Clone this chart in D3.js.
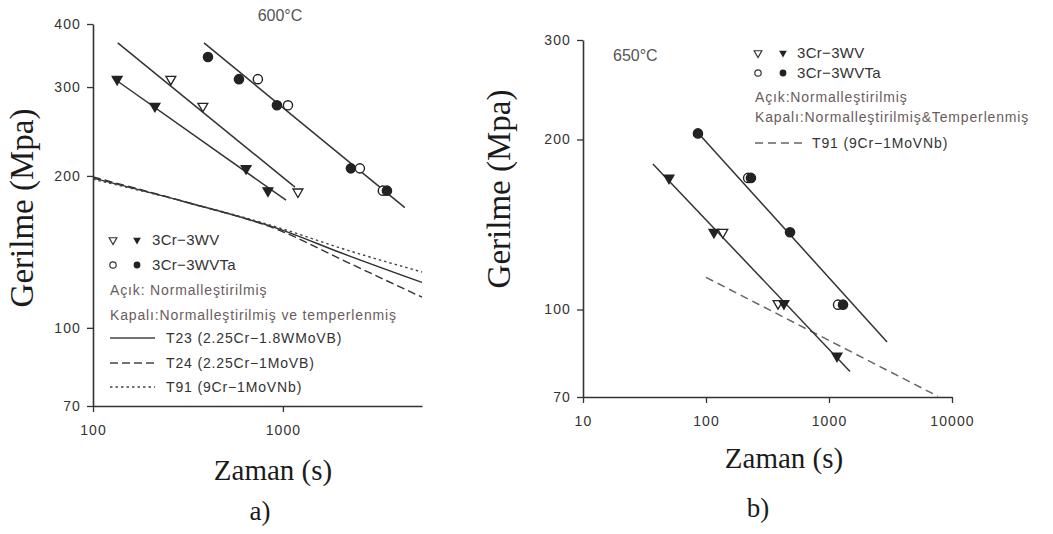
<!DOCTYPE html>
<html><head><meta charset="utf-8">
<script src="https://cdn.jsdelivr.net/npm/d3@7"></script>
<style>
html,body{margin:0;padding:0;background:#fff;}
svg{display:block;}
.tick text{font-family:"Liberation Sans",Arial,sans-serif;font-size:14px;fill:#333;letter-spacing:1.1px;}
</style></head>
<body>
<svg id="chart" width="1053" height="534"></svg>
<script>
// ---------- Panel a) 600°C ----------
const aTitle = "600°C";
const aXTicks = [100, 1000];
const aYTicks = [70, 100, 200, 300, 400];
// 3Cr-3WV open (normalized) / filled (normalized & tempered)
const aWVOpen   = [[257, 311], [379, 275], [1200, 186]];
const aWVFilled = [[134, 311], [212, 275], [640, 207], [834, 187]];
// 3Cr-3WVTa
const aTaOpen   = [[738, 311], [1063, 276], [2543, 207], [3360, 187]];
const aTaFilled = [[403, 344], [587, 311], [930, 276], [2280, 207], [3530, 187]];
// fitted lines (time, stress) endpoints
const aFitWVOpen   = [[135, 367], [1157, 190]];
const aFitWVFilled = [[127, 313], [1038, 179]];
const aFitTa       = [[384, 367], [4387, 173]];
// reference steels
const aT23 = [[100, 198], [300, 178], [1000, 156], [2000, 141], [5400, 123]];
const aT24 = [[100, 199], [300, 178], [1000, 155], [2000, 137], [5400, 115]];
const aT91 = [[100, 197], [300, 178], [1000, 157], [2000, 144], [5400, 129]];
const aRefLabels = ["T23  (2.25Cr\u22121.8WMoVB)", "T24  (2.25Cr\u22121MoVB)", "T91  (9Cr\u22121MoVNb)"];

// ---------- Panel b) 650°C ----------
const bTitle = "650°C";
const bXTicks = [10, 100, 1000, 10000];
const bYTicks = [70, 100, 200, 300];
const bWVOpen   = [[137, 137], [385, 102.5]];
const bWVFilled = [[50, 171], [116, 137], [430, 102.5], [1161, 82.7]];
const bTaOpen   = [[220, 171], [1185, 102]];
const bTaFilled = [[86, 205], [232, 171], [482, 137], [1300, 102]];
const bFitWV = [[37, 181], [1482, 77.7]];
const bFitTa = [[87, 205], [2965, 87.6]];
const bT91   = [[100, 114], [7690, 70.2]];
const bRefLabels = ["T91  (9Cr\u22121MoVNb)"];

const legendNames = ["3Cr\u22123WV", "3Cr\u22123WVTa"];
const yLabel = "Gerilme (Mpa)";
const xLabel = "Zaman (s)";

const svg = d3.select("#chart");
const ink = "#333";

function drawAxes(g, x, y, xt, yt) {
  const xa = g.append("g").attr("transform", `translate(0,${y.range()[0]})`)
    .call(d3.axisBottom(x).tickValues(xt).tickFormat(d3.format("d")).tickSize(6).tickSizeOuter(0).tickPadding(13));
  const ya = g.append("g").attr("transform", `translate(${x.range()[0]},0)`)
    .call(d3.axisLeft(y).tickValues(yt).tickFormat(d3.format("d")).tickSize(6).tickSizeOuter(0).tickPadding(6));
  [xa, ya].forEach(a => {
    a.select(".domain").attr("stroke", ink).attr("stroke-width", 1.6);
    a.selectAll(".tick line").attr("stroke", ink).attr("stroke-width", 1.3);
  });
}
const tri = (s) => d3.symbol(d3.symbolTriangle, s)();
function triangles(g, x, y, data, filled, s) {
  g.selectAll(null).data(data).join("path")
    .attr("d", tri(s || 42))
    .attr("transform", d => `translate(${x(d[0])},${y(d[1])}) rotate(180)`)
    .attr("fill", filled ? "#222" : "#fff").attr("stroke", "#222").attr("stroke-width", 1.3);
}
function circles(g, x, y, data, filled, r) {
  g.selectAll(null).data(data).join("circle")
    .attr("cx", d => x(d[0])).attr("cy", d => y(d[1])).attr("r", r || 4.6)
    .attr("fill", filled ? "#222" : "#fff").attr("stroke", "#222").attr("stroke-width", 1.4);
}
function line(g, x, y, data, dash, color, w) {
  g.append("path").datum(data)
    .attr("d", d3.line().x(d => x(d[0])).y(d => y(d[1])).curve(d3.curveMonotoneX))
    .attr("fill", "none").attr("stroke", color || ink).attr("stroke-width", w || 1.5)
    .attr("stroke-dasharray", dash || null);
}
function text(g, x, y, s, size, color, opts) {
  opts = opts || {};
  return g.append("text").attr("x", x).attr("y", y).text(s)
    .attr("font-family", opts.family || "'Liberation Sans',Arial,sans-serif")
    .attr("font-size", size).attr("fill", color)
    .attr("letter-spacing", opts.ls || null)
    .attr("text-anchor", opts.anchor || "start");
}
const serif = {family: "'Liberation Serif','Times New Roman',serif", anchor: "middle"};
const leg = {ls: "0.85px"};

// ===== Panel a =====
{
  const g = svg.append("g");
  const x = d3.scaleLog().domain([100, 5400]).range([93, 422]);
  const y = d3.scaleLog().domain([70, 400]).range([406, 24]);
  drawAxes(g, x, y, aXTicks, aYTicks);
  line(g, x, y, aT23, null, "#333", 1.4);
  line(g, x, y, aT24, "8,4", "#333", 1.4);
  line(g, x, y, aT91, "2.5,3", "#444", 1.4);
  line(g, x, y, aFitWVOpen); line(g, x, y, aFitWVFilled); line(g, x, y, aFitTa);
  triangles(g, x, y, aWVOpen, false); triangles(g, x, y, aWVFilled, true);
  circles(g, x, y, aTaOpen, false); circles(g, x, y, aTaFilled, true);
  text(g, 280, 21, aTitle, 16, "#555", {anchor: "middle"});
  // legend
  const L = g.append("g");
  L.append("path").attr("d", tri(26)).attr("transform", "translate(113,240) rotate(180)").attr("fill", "#fff").attr("stroke", "#333").attr("stroke-width", 1.2);
  L.append("path").attr("d", tri(26)).attr("transform", "translate(137,240) rotate(180)").attr("fill", "#222");
  L.append("circle").attr("cx", 113).attr("cy", 265).attr("r", 3.2).attr("fill", "#fff").attr("stroke", "#333").attr("stroke-width", 1.2);
  L.append("circle").attr("cx", 137).attr("cy", 265).attr("r", 3.4).attr("fill", "#222");
  text(L, 152, 245, legendNames[0], 15, "#333", {ls: "0.3px"});
  text(L, 152, 270, legendNames[1], 15, "#333", {ls: "0.3px"});
  text(L, 110, 295, "Açık: Normalleştirilmiş", 14, "#6a5c5c", leg);
  text(L, 110, 320, "Kapalı:Normalleştirilmiş ve temperlenmiş", 14, "#6a5c5c", leg);
  const dashes = [null, "8,4", "2.5,3"];
  [338, 363, 387].forEach((yy, i) => {
    L.append("line").attr("x1", 110).attr("x2", 155).attr("y1", yy).attr("y2", yy)
      .attr("stroke", "#444").attr("stroke-width", 1.4).attr("stroke-dasharray", dashes[i]);
    text(L, 166, yy + 5, aRefLabels[i], 14, "#333", leg);
  });
  text(g, 273, 480, xLabel, 29, "#1b1b1b", serif);
  text(g, 260, 520, "a)", 27, "#1b1b1b", serif);
  text(g, 0, 0, yLabel, 33, "#1b1b1b", serif).attr("transform", "translate(33,208) rotate(-90)");
}

// ===== Panel b =====
{
  const g = svg.append("g");
  const x = d3.scaleLog().domain([10, 10000]).range([583, 952]);
  const y = d3.scaleLog().domain([70, 300]).range([397, 40]);
  drawAxes(g, x, y, bXTicks, bYTicks);
  line(g, x, y, bT91, "8,5", "#666", 1.5);
  line(g, x, y, bFitWV); line(g, x, y, bFitTa);
  triangles(g, x, y, bWVOpen, false); triangles(g, x, y, bWVFilled, true);
  circles(g, x, y, bTaOpen, false); circles(g, x, y, bTaFilled, true);
  text(g, 613, 61, bTitle, 16, "#555");
  const L = g.append("g");
  L.append("path").attr("d", tri(26)).attr("transform", "translate(758,53) rotate(180)").attr("fill", "#fff").attr("stroke", "#333").attr("stroke-width", 1.2);
  L.append("path").attr("d", tri(26)).attr("transform", "translate(783,53) rotate(180)").attr("fill", "#222");
  L.append("circle").attr("cx", 758).attr("cy", 73).attr("r", 3.2).attr("fill", "#fff").attr("stroke", "#333").attr("stroke-width", 1.2);
  L.append("circle").attr("cx", 783).attr("cy", 73).attr("r", 3.4).attr("fill", "#222");
  text(L, 797, 58, legendNames[0], 15, "#333", {ls: "0.3px"});
  text(L, 797, 78, legendNames[1], 15, "#333", {ls: "0.3px"});
  text(L, 755, 102, "Açık:Normalleştirilmiş", 14, "#6a5c5c", leg);
  text(L, 755, 122, "Kapalı:Normalleştirilmiş&Temperlenmiş", 14, "#6a5c5c", leg);
  L.append("line").attr("x1", 755).attr("x2", 804).attr("y1", 143).attr("y2", 143)
    .attr("stroke", "#666").attr("stroke-width", 1.5).attr("stroke-dasharray", "8,5");
  text(L, 812, 148, bRefLabels[0], 14, "#333", leg);
  text(g, 784, 468, xLabel, 29, "#1b1b1b", serif);
  text(g, 758, 517, "b)", 27, "#1b1b1b", serif);
  text(g, 0, 0, yLabel, 33, "#1b1b1b", serif).attr("transform", "translate(510,189) rotate(-90)");
}
</script>
</body></html>
